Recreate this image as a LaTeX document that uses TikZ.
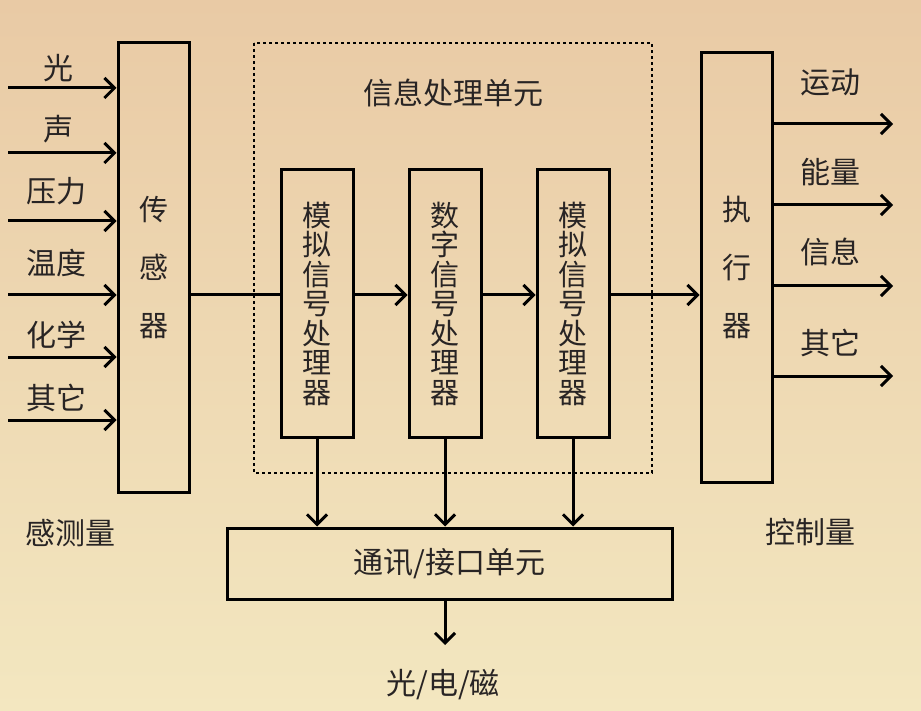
\documentclass[tikz,border=0pt]{standalone}
\usepackage{fontspec}
\newfontfamily\cjk{Noto Sans CJK SC}
\usetikzlibrary{arrows.meta}
\definecolor{bgtop}{RGB}{233,202,165}
\definecolor{bgbot}{RGB}{243,231,192}
\definecolor{ink}{RGB}{40,36,36}
\tikzset{
  box/.style={draw=black, line width=3pt, inner sep=0pt, text=ink},
  lbl/.style={text=ink, inner sep=0pt, font=\cjk\fontsize{30}{32}\selectfont},
  conn/.style={line width=3pt, -{Straight Barb[length=10pt,width=20pt,line width=3pt]}},
  plain/.style={line width=3pt},
}
\begin{document}
\begin{tikzpicture}[x=1pt,y=-1pt]
\shade[top color=bgtop, bottom color=bgbot] (0,0) rectangle (921,711);
\useasboundingbox (0,0) rectangle (921,711);

% dashed unit
\draw[line width=1.4pt, dash pattern=on 3pt off 3pt] (254,43) rectangle (652,473);
\node[lbl] (unit) at (453,93) {信息处理单元};

% sensor
\node[box, minimum width=71pt, minimum height=449pt, align=center,
      font=\cjk\fontsize{29}{58}\selectfont] (sensor) at (153.5,267.5) {传\\感\\器};
% processors
\node[box, minimum width=72pt, minimum height=267pt, align=center,
      font=\cjk\fontsize{29}{29.5}\selectfont] (b1) at (317,303.5) {模\\拟\\信\\号\\处\\理\\器};
\node[box, minimum width=72pt, minimum height=267pt, align=center,
      font=\cjk\fontsize{29}{29.5}\selectfont] (b2) at (445,303.5) {数\\字\\信\\号\\处\\理\\器};
\node[box, minimum width=72pt, minimum height=267pt, align=center,
      font=\cjk\fontsize{29}{29.5}\selectfont] (b3) at (573,303.5) {模\\拟\\信\\号\\处\\理\\器};
% executor
\node[box, minimum width=71pt, minimum height=429pt, align=center,
      font=\cjk\fontsize{29}{58}\selectfont] (exec) at (736.5,267.5) {执\\行\\器};
% comm unit
\node[box, minimum width=445pt, minimum height=71pt,
      font=\cjk\fontsize{30}{32}\selectfont] (comm) at (449.5,563.5) {\raisebox{-3pt}{通讯/接口单元}};

% inputs
\coordinate (i1) at (8,88);
\coordinate (i2) at (8,153);
\coordinate (i3) at (8,221);
\coordinate (i4) at (8,295);
\coordinate (i5) at (8,357);
\coordinate (i6) at (8,420);
\foreach \c in {i1,i2,i3,i4,i5,i6}
  \draw[conn] (\c) -- (sensor.west |- \c);
\node[lbl] (t1) at (58,68) {光};
\node[lbl] (t2) at (58,129) {声};
\node[lbl] (t3) at (56,191) {压力};
\node[lbl] (t4) at (56,263) {温度};
\node[lbl] (t5) at (56,335) {化学};
\node[lbl] (t6) at (56,398) {其它};
\node[lbl] (sense) at (70,533) {感测量};

% main chain
\coordinate (m) at (200,295);
\draw[plain] (sensor.east |- m) -- (b1.west |- m);
\draw[conn] (b1.east |- m) -- (b2.west |- m);
\draw[conn] (b2.east |- m) -- (b3.west |- m);
\draw[conn] (b3.east |- m) -- (exec.west |- m);

% outputs
\coordinate (o1) at (893,124);
\coordinate (o2) at (893,205);
\coordinate (o3) at (893,286);
\coordinate (o4) at (893,376);
\foreach \c in {o1,o2,o3,o4}
  \draw[conn] (exec.east |- \c) -- (\c);
\node[lbl] (u1) at (830,82) {运动};
\node[lbl] (u2) at (830,172) {能量};
\node[lbl] (u3) at (830,252) {信息};
\node[lbl] (u4) at (830,343) {其它};
\node[lbl] (ctrl) at (810,532) {控制量};

% to comm
\draw[conn] (b1.south) -- (b1.south |- comm.north);
\draw[conn] (b2.south) -- (b2.south |- comm.north);
\draw[conn] (b3.south) -- (b3.south |- comm.north);
\coordinate (out) at (445,645);
\draw[conn] (comm.south -| out) -- (out);
\node[lbl] (pem) at (443,685) {光/电/磁};
\end{tikzpicture}
\end{document}
